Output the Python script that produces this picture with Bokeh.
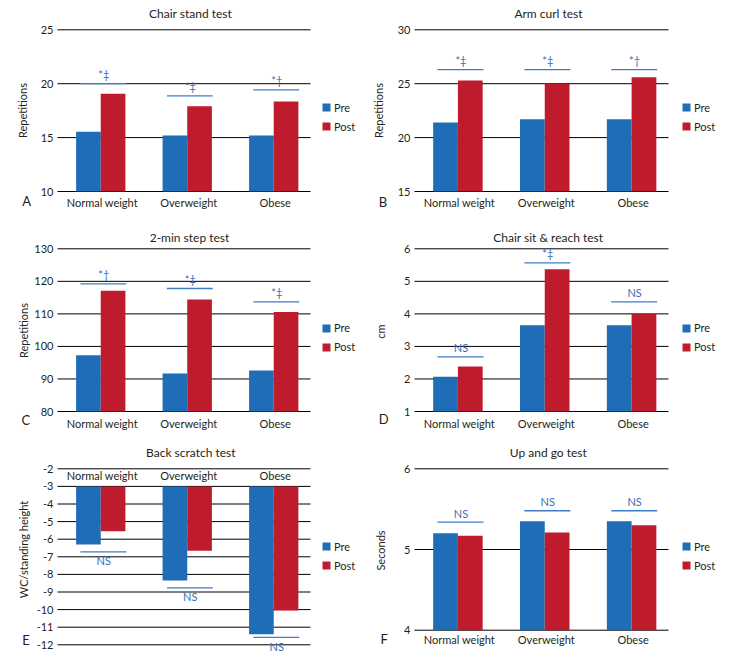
from bokeh.plotting import figure
from bokeh.models import ColumnDataSource, Range1d, Label, LabelSet, Legend, LegendItem, Grid
from bokeh.core.properties import value
from bokeh.transform import dodge
from bokeh.layouts import row, column
from bokeh.embed import file_html
from bokeh.resources import INLINE

# ---------------- data ----------------
categories = ["Normal weight", "Overweight", "Obese"]
series = ["Pre", "Post"]

chair_stand_pre = [15.55, 15.2, 15.2]
chair_stand_post = [19.06, 17.9, 18.35]
chair_stand_sig_y = [20.0, 18.87, 19.43]
chair_stand_sig = ["*‡", "*‡", "*†"]
chair_stand_ticks = [10, 15, 20, 25]

arm_curl_pre = [21.4, 21.7, 21.7]
arm_curl_post = [25.3, 25.0, 25.6]
arm_curl_sig_y = [26.3, 26.3, 26.3]
arm_curl_sig = ["*‡", "*‡", "*†"]
arm_curl_ticks = [15, 20, 25, 30]

step_pre = [97.3, 91.7, 92.6]
step_post = [117.1, 114.4, 110.6]
step_sig_y = [119.2, 117.8, 113.7]
step_sig = ["*†", "*‡", "*‡"]
step_ticks = [80, 90, 100, 110, 120, 130]

reach_pre = [2.07, 3.65, 3.65]
reach_post = [2.38, 5.37, 4.0]
reach_sig_y = [2.68, 5.57, 4.37]
reach_sig = ["NS", "*‡", "NS"]
reach_ticks = [1, 2, 3, 4, 5, 6]

scratch_pre = [-6.3, -8.35, -11.4]
scratch_post = [-5.55, -6.65, -10.05]
scratch_sig_y = [-6.72, -8.76, -11.58]
scratch_sig = ["NS", "NS", "NS"]
scratch_ticks = [-12, -11, -10, -9, -8, -7, -6, -5, -4, -3, -2]
scratch_base = -3

upgo_pre = [5.2, 5.35, 5.35]
upgo_post = [5.17, 5.21, 5.30]
upgo_sig_y = [5.34, 5.48, 5.48]
upgo_sig = ["NS", "NS", "NS"]
upgo_ticks = [4, 5, 6]

# ---------------- style ----------------
FONT = "Lato"
BLUE = "#1f6db6"
RED = "#be1b2d"
ANN_TEXT = "#3a6db3"
ANN_LINE = "#3f7dc8"
INK = "#231f20"
SPAN = 2.925          # plot-area width in category units
BAR_W = 0.285


def make_panel(title, letter, ylabel, pre, post, sig_y, sig_txt, ticks,
               vmin, vmax, base, g, hanging=False):
    W, H, L, R, T, B = g["W"], g["H"], g["L"], g["R"], g["T"], g["B"]
    ux = (R - L) / SPAN
    uy = (B - T) / (vmax - vmin)
    p = figure(width=W, height=H,
               x_range=Range1d(-L / ux, SPAN + (W - R) / ux),
               y_range=Range1d(vmin - (H - B) / uy, vmax + T / uy),
               x_axis_location=None, y_axis_location=None,
               output_backend="svg", toolbar_location=None, tools="",
               background_fill_color="white", border_fill_color="white")
    p.min_border_left = 0
    p.min_border_right = 0
    p.min_border_top = 0
    p.min_border_bottom = 0
    p.outline_line_color = None
    for r in list(p.center):
        if isinstance(r, Grid):
            r.visible = False
            r.grid_line_color = None

    n = len(categories)
    xs = [i + 0.5 for i in range(n)]
    src = ColumnDataSource(dict(x=xs, cat=categories, pre=pre, post=post,
                                base=[base] * n, sig=sig_y, sig_txt=sig_txt))
    grid_src = ColumnDataSource(dict(y=ticks, lab=[str(t) for t in ticks]))

    # horizontal gridlines at the value ticks
    p.segment(x0=0, x1=SPAN, y0='y', y1='y', source=grid_src,
              line_color="black", line_width=1)
    # value tick labels
    p.add_layout(LabelSet(x=0, y='y', text='lab', source=grid_src, x_offset=-4,
                          text_align='right', text_baseline='middle',
                          text_font=value(FONT), text_font_size=value('11px'),
                          text_color=INK))

    # bars
    if hanging:
        r_pre = p.vbar(x=dodge('x', -BAR_W / 2, range=p.x_range), top='base', bottom='pre',
                       width=BAR_W, source=src, fill_color=BLUE, line_color=None)
        r_post = p.vbar(x=dodge('x', BAR_W / 2, range=p.x_range), top='base', bottom='post',
                        width=BAR_W, source=src, fill_color=RED, line_color=None)
    else:
        r_pre = p.vbar(x=dodge('x', -BAR_W / 2, range=p.x_range), top='pre', bottom='base',
                       width=BAR_W, source=src, fill_color=BLUE, line_color=None)
        r_post = p.vbar(x=dodge('x', BAR_W / 2, range=p.x_range), top='post', bottom='base',
                        width=BAR_W, source=src, fill_color=RED, line_color=None)

    # significance brackets
    p.segment(x0=dodge('x', -0.235, range=p.x_range), x1=dodge('x', 0.295, range=p.x_range),
              y0='sig', y1='sig', source=src, line_color=ANN_LINE, line_width=1.3)
    p.add_layout(LabelSet(x='x', y='sig', text='sig_txt', source=src,
                          x_offset=3, y_offset=-9 if hanging else 9,
                          text_align='center', text_baseline='middle',
                          text_font=value(FONT), text_font_size=value('11px'),
                          text_color=ANN_TEXT))

    # category labels
    if hanging:
        p.add_layout(LabelSet(x='x', y=vmax, text='cat', source=src,
                              x_offset=1.5, y_offset=-(g["xlab_y"] - T),
                              text_align='center', text_baseline='middle',
                              text_font=value(FONT), text_font_size=value('11px'),
                              text_color=INK))
    else:
        p.add_layout(LabelSet(x='x', y=vmin, text='cat', source=src,
                              x_offset=1.5, y_offset=-(g["xlab_y"] - B),
                              text_align='center', text_baseline='middle',
                              text_font=value(FONT), text_font_size=value('11px'),
                              text_color=INK))

    # value-axis title
    p.add_layout(Label(x=L - g["ylab_dx"], y=H - g["ylab_y"], x_units='screen', y_units='screen',
                       text=ylabel, angle=90, angle_units='deg',
                       text_align='center', text_baseline='middle',
                       text_font=FONT, text_font_size='11px', text_color=INK))
    # chart title
    p.add_layout(Label(x=g["title_x"], y=H - g["title_y"], x_units='screen', y_units='screen',
                       text=title, text_align='center', text_baseline='middle',
                       text_font=FONT, text_font_size='12px', text_color=INK))
    # panel letter
    p.add_layout(Label(x=g["letter_x"], y=H - g["letter_y"], x_units='screen', y_units='screen',
                       text=letter, text_align='left', text_baseline='middle',
                       text_font=FONT, text_font_size='13px', text_color=INK))

    legend = Legend(items=[LegendItem(label=series[0], renderers=[r_pre]),
                           LegendItem(label=series[1], renderers=[r_post])],
                    location=(g["leg_x"], H - g["leg_cy"] - 16), orientation="vertical",
                    border_line_color=None, background_fill_alpha=0,
                    padding=0, margin=0, spacing=6, glyph_width=10, glyph_height=10,
                    label_height=13, label_standoff=3,
                    label_text_font=FONT, label_text_font_size="11px",
                    label_text_color=INK)
    p.add_layout(legend)
    return p


gA = dict(W=365, H=215, L=57, R=310, T=29.3, B=191, xlab_y=202, ylab_dx=35.3, ylab_y=110,
          title_x=190, title_y=13.3, letter_x=21.7, letter_y=200.3, leg_x=321, leg_cy=116.7)
gB = dict(W=363, H=215, L=49, R=303, T=29.3, B=191, xlab_y=201.7, ylab_dx=35.7, ylab_y=110,
          title_x=183, title_y=13.3, letter_x=13.3, letter_y=201, leg_x=316, leg_cy=116.7)
gC = dict(W=365, H=220, L=57, R=310, T=33.3, B=196, xlab_y=208, ylab_dx=33.7, ylab_y=115,
          title_x=189, title_y=21.5, letter_x=21, letter_y=204, leg_x=321, leg_cy=122)
gD = dict(W=363, H=220, L=49, R=303, T=33.3, B=196, xlab_y=208.3, ylab_dx=34, ylab_y=116,
          title_x=182.8, title_y=21.5, letter_x=13.3, letter_y=203.7, leg_x=316, leg_cy=122)
gE = dict(W=365, H=231, L=57, R=310, T=33.3, B=209.3, xlab_y=40, ylab_dx=33.7, ylab_y=114,
          title_x=190.3, title_y=17.3, letter_x=21.7, letter_y=204, leg_x=321, leg_cy=120.5)
gF = dict(W=363, H=231, L=49, R=303, T=33.3, B=194.7, xlab_y=204.3, ylab_dx=34, ylab_y=115,
          title_x=182.8, title_y=17.3, letter_x=15, letter_y=203.5, leg_x=316, leg_cy=120.5)

pA = make_panel("Chair stand test", "A", "Repetitions", chair_stand_pre, chair_stand_post,
                chair_stand_sig_y, chair_stand_sig, chair_stand_ticks, 10, 25, 10, gA)
pB = make_panel("Arm curl test", "B", "Repetitions", arm_curl_pre, arm_curl_post,
                arm_curl_sig_y, arm_curl_sig, arm_curl_ticks, 15, 30, 15, gB)
pC = make_panel("2-min step test", "C", "Repetitions", step_pre, step_post,
                step_sig_y, step_sig, step_ticks, 80, 130, 80, gC)
pD = make_panel("Chair sit & reach test", "D", "cm", reach_pre, reach_post,
                reach_sig_y, reach_sig, reach_ticks, 1, 6, 1, gD)
pE = make_panel("Back scratch test", "E", "WC/standing height", scratch_pre, scratch_post,
                scratch_sig_y, scratch_sig, scratch_ticks, -12, -2, scratch_base, gE,
                hanging=True)
pF = make_panel("Up and go test", "F", "Seconds", upgo_pre, upgo_post,
                upgo_sig_y, upgo_sig, upgo_ticks, 4, 6, 4, gF)

layout = column(row(pA, pB), row(pC, pD), row(pE, pF))
open("out.html", "w").write(file_html(layout, INLINE))
